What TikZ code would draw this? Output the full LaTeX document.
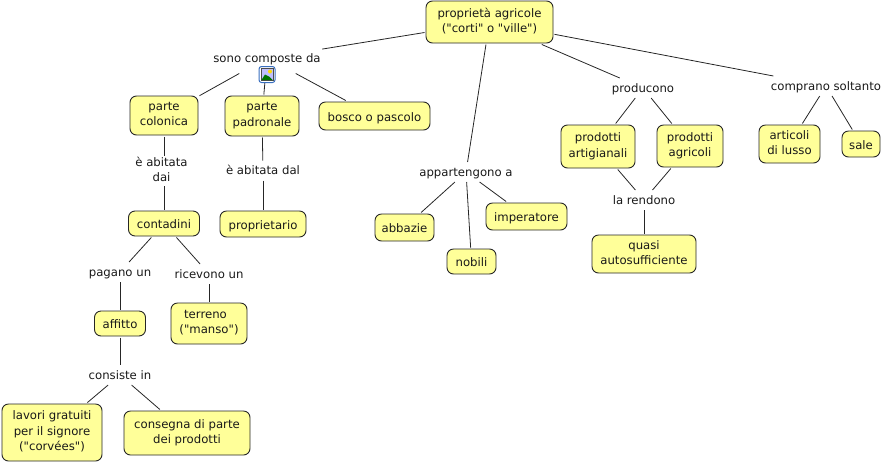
\documentclass[tikz,border=0pt]{standalone}
\usepackage{fontspec}
\newfontfamily\testo{DejaVu Sans}
\definecolor{giallo}{HTML}{FFFF99}
\definecolor{azzurro}{HTML}{3A6FC0}
\begin{document}
\begin{tikzpicture}
[
    x=1pt, y=-1pt,
    every node/.style={font=\testo\fontsize{11.7}{15.5}\selectfont, align=center, text=black!90,
        execute at begin node={\rule{0pt}{11pt}}, execute at end node={\rule[-3pt]{0pt}{0pt}}},
    concetto/.style={draw=black!85, fill=giallo, rounded corners=6.5pt, line width=0.9pt, inner sep=0pt, outer sep=1.5pt,
        execute at begin node={\rule{0pt}{13pt}}},
    frase/.style={inner sep=0pt, outer sep=1.5pt, minimum height=17pt},
    legame/.style={draw=black!85, line width=0.8pt},
]
\useasboundingbox (0,0) rectangle (885,464);
\node[concetto, minimum width=127pt, minimum height=42pt] (proprieta) at (489.5,22) {proprietà agricole\\("corti" o "ville")};
\node[frase, minimum height=28pt] (composte) at (267,58) {sono composte da};
\node[concetto, minimum width=68pt, minimum height=39pt] (colonica) at (164,115.5) {parte\\colonica};
\node[concetto, minimum width=74pt, minimum height=40pt] (padronale) at (262,116) {parte\\padronale};
\node[concetto, minimum width=111pt, minimum height=28pt] (bosco) at (374.5,116) {bosco o pascolo};
\node[frase] (abitatadai) at (164,171) {è abitata\hspace*{5pt}\\dai\hspace*{5pt}};
\node[frase] (abitatadal) at (263,170.5) {è abitata dal};
\node[concetto, minimum width=71pt, minimum height=25pt] (contadini) at (164,223.5) {contadini};
\node[concetto, minimum width=86pt, minimum height=26pt] (proprietario) at (263,224) {proprietario};
\node[frase] (pagano) at (120,272) {pagano un};
\node[frase] (ricevono) at (209,274) {ricevono un};
\node[concetto, minimum width=51pt, minimum height=25pt] (affitto) at (120,323.5) {affitto};
\node[concetto, minimum width=76pt, minimum height=41pt] (terreno) at (209,323.5) {terreno\hspace*{7pt}\\("manso")};
\node[frase] (consiste) at (120,375) {consiste in};
\node[concetto, minimum width=100pt, minimum height=57pt] (lavori) at (52,432.5) {lavori gratuiti\\per il signore\\("corvées")};
\node[concetto, minimum width=126pt, minimum height=44pt] (consegna) at (187,433) {consegna di parte\\dei prodotti};
\node[frase] (appartengono) at (466,172) {appartengono a};
\node[concetto, minimum width=59pt, minimum height=27pt] (abbazie) at (404.5,227.5) {abbazie};
\node[concetto, minimum width=49pt, minimum height=25pt] (nobili) at (471.5,261.5) {nobili};
\node[concetto, minimum width=81pt, minimum height=27pt] (imperatore) at (526.5,216.5) {imperatore};
\node[frase] (producono) at (643,88) {producono};
\node[concetto, minimum width=74pt, minimum height=43pt] (artigianali) at (598,146.5) {prodotti\\artigianali};
\node[concetto, minimum width=66pt, minimum height=42pt] (agricoli) at (690,146) {prodotti\\agricoli};
\node[frase] (rendono) at (644,200) {la rendono};
\node[concetto, minimum width=104pt, minimum height=38pt] (quasi) at (644,254) {quasi\\autosufficiente};
\node[frase] (comprano) at (826,86) {comprano soltanto};
\node[concetto, minimum width=61pt, minimum height=38pt] (articoli) at (789.5,144) {articoli\\di lusso};
\node[concetto, minimum width=38pt, minimum height=26pt] (sale) at (861,144) {sale};
\draw[legame] (proprieta) -- (composte);
\draw[legame] (proprieta) -- (appartengono);
\draw[legame] (proprieta) -- (producono);
\draw[legame] (proprieta) -- (comprano);
\draw[legame] (composte) -- (colonica);
\draw[legame] (composte) -- (padronale);
\draw[legame] (composte) -- (bosco);
\draw[legame] (colonica) -- (abitatadai);
\draw[legame] (abitatadai) -- (contadini);
\draw[legame] (padronale) -- (abitatadal);
\draw[legame] (abitatadal) -- (proprietario);
\draw[legame] (contadini) -- (pagano);
\draw[legame] (contadini) -- (ricevono);
\draw[legame] (pagano) -- (affitto);
\draw[legame] (ricevono) -- (terreno);
\draw[legame] (affitto) -- (consiste);
\draw[legame] (consiste) -- (lavori);
\draw[legame] (consiste) -- (consegna);
\draw[legame] (appartengono) -- (abbazie);
\draw[legame] (appartengono) -- (nobili);
\draw[legame] (appartengono) -- (imperatore);
\draw[legame] (producono) -- (artigianali);
\draw[legame] (producono) -- (agricoli);
\draw[legame] (artigianali) -- (rendono);
\draw[legame] (agricoli) -- (rendono);
\draw[legame] (rendono) -- (quasi);
\draw[legame] (comprano) -- (articoli);
\draw[legame] (comprano) -- (sale);
\node[draw=azzurro, fill=white, rounded corners=2.5pt, line width=1pt, minimum size=16pt, inner sep=0pt] (icona) at (267,74.5) {};
\fill[blue!25, draw=black!70, line width=0.6pt] (261,68.5) rectangle (273,80.5);
\fill[yellow!80!orange] (270,71.5) circle (2pt);
\fill[green!45!black] (261.5,80) -- (265,74.5) -- (269,76.5) -- (272.5,80) -- cycle;
\end{tikzpicture}
\end{document}
